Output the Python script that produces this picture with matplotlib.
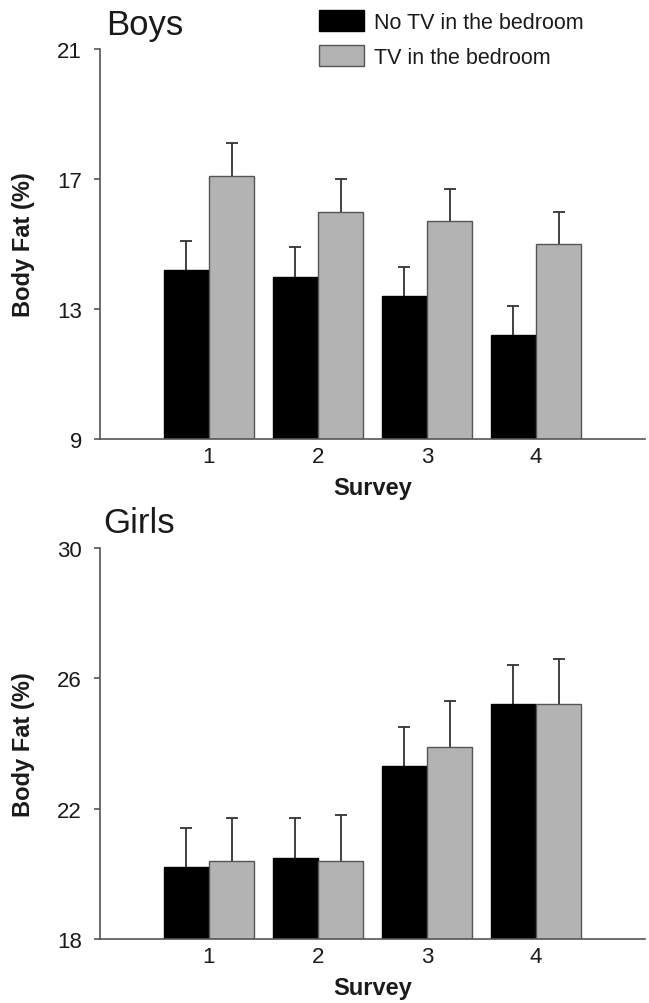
import numpy as np
import matplotlib
matplotlib.use("Agg")
import matplotlib.pyplot as plt

plt.rcParams['font.family'] = ['Liberation Sans', 'DejaVu Sans']

# -----------------------------
# Data
# -----------------------------
surveys = [1, 2, 3, 4]
series_names = ["No TV in the bedroom", "TV in the bedroom"]

boys_no_tv = [14.2, 14.0, 13.4, 12.2]
boys_no_tv_err = [0.9, 0.9, 0.9, 0.9]
boys_tv = [17.1, 16.0, 15.7, 15.0]
boys_tv_err = [1.0, 1.0, 1.0, 1.0]

girls_no_tv = [20.2, 20.5, 23.3, 25.2]
girls_no_tv_err = [1.2, 1.2, 1.2, 1.2]
girls_tv = [20.4, 20.4, 23.9, 25.2]
girls_tv_err = [1.3, 1.4, 1.4, 1.4]

boys_ylim = (9, 21)
boys_yticks = [9, 13, 17, 21]
girls_ylim = (18, 30)
girls_yticks = [18, 22, 26, 30]

# -----------------------------
# Style
# -----------------------------
W, H = 649, 1004
BAR_W = 0.415
BLACK = "black"
GREY = "#b3b3b3"
SPINE = "#555555"
ERR = "#333333"
TXT = "#1a1a1a"


def add_errors(ax, x, y, err):
    zeros = np.zeros(len(x))
    _, caps, _ = ax.errorbar(x, y, yerr=[zeros, err], fmt='none', ecolor=ERR,
                             elinewidth=1.3, capsize=4.3, capthick=1.3, zorder=1)
    # only keep the upper cap (the lower one sits on the bar top)
    for c in caps:
        if np.allclose(c.get_ydata(), y):
            c.set_visible(False)


def draw_panel(ax, no_tv, no_tv_err, tv, tv_err, ylim, yticks):
    x = np.array(surveys, dtype=float)
    b1 = ax.bar(x, no_tv, width=-BAR_W, align='edge', color=BLACK,
                edgecolor=BLACK, linewidth=1, zorder=2, label=series_names[0])
    b2 = ax.bar(x, tv, width=BAR_W, align='edge', color=GREY,
                edgecolor=SPINE, linewidth=1, zorder=2, label=series_names[1])
    add_errors(ax, x - BAR_W / 2, no_tv, no_tv_err)
    add_errors(ax, x + BAR_W / 2, tv, tv_err)

    ax.set_xlim(0, 5)
    ax.set_ylim(*ylim)
    ax.set_xticks(surveys)
    ax.set_yticks(yticks)
    for s in ['top', 'right']:
        ax.spines[s].set_visible(False)
    for s in ['left', 'bottom']:
        ax.spines[s].set_color(SPINE)
        ax.spines[s].set_linewidth(1.2)
    ax.tick_params(axis='x', length=0, pad=5, labelsize=16, labelcolor=TXT)
    ax.tick_params(axis='y', length=4, width=1.2, color=SPINE, pad=9,
                   labelsize=16, labelcolor=TXT)
    ax.set_xlabel("Survey", fontsize=17, fontweight='bold', color=TXT)
    ax.xaxis.set_label_coords(0.5, -37 / 390)
    ax.set_ylabel("Body Fat (%)", fontsize=17, fontweight='bold', color=TXT)
    ax.yaxis.set_label_coords(-65 / 545, 0.5)
    return b1, b2


fig = plt.figure(figsize=(W / 100, H / 100), dpi=100)

ax1 = fig.add_axes([100 / W, 1 - 440 / H, 545 / W, 390 / H])
ax2 = fig.add_axes([100 / W, 1 - 940 / H, 545 / W, 391 / H])

h1, h2 = draw_panel(ax1, boys_no_tv, boys_no_tv_err, boys_tv, boys_tv_err,
                    boys_ylim, boys_yticks)
draw_panel(ax2, girls_no_tv, girls_no_tv_err, girls_tv, girls_tv_err,
           girls_ylim, girls_yticks)

fig.text(106 / W, 1 - 35 / H, "Boys", fontsize=25, color=TXT, va='baseline')
fig.text(103 / W, 1 - 533 / H, "Girls", fontsize=25, color=TXT, va='baseline')

fig.legend([h1, h2], series_names, loc='upper left',
           bbox_to_anchor=(319 / W, 1 - 11 / H), frameon=False,
           fontsize=15.5, handlelength=2.1, handleheight=1.15,
           handletextpad=0.45, labelspacing=0.55, borderpad=0,
           borderaxespad=0, labelcolor=TXT)

fig.savefig("out.png", dpi=100)
